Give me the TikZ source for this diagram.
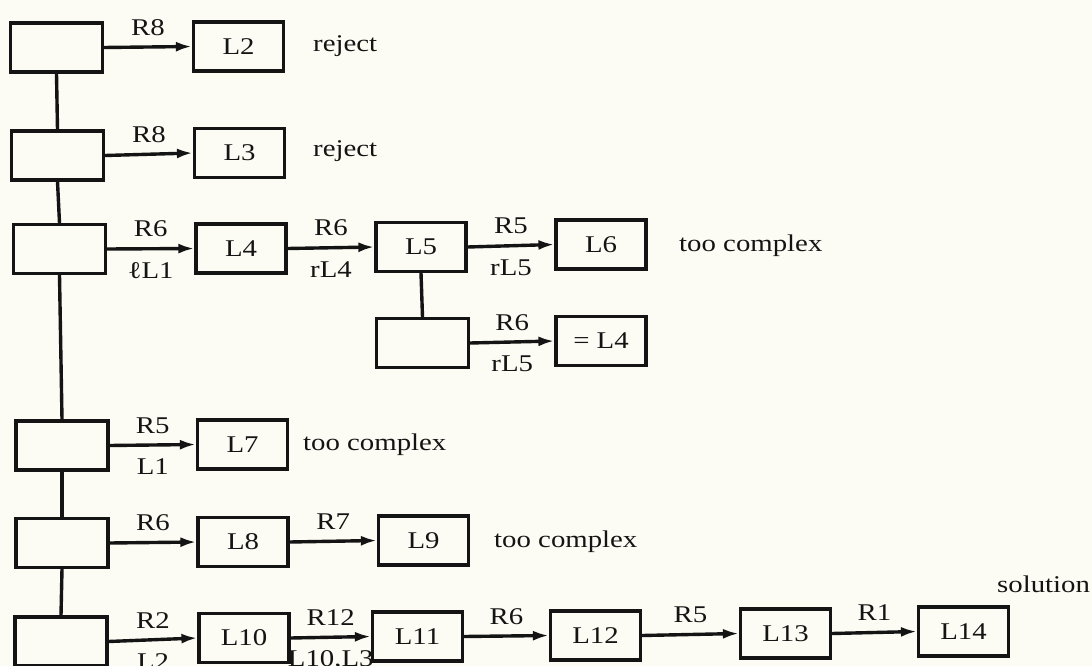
\documentclass[tikz,border=0pt]{standalone}
\usepackage{fontspec}
\setmainfont{Liberation Serif}[FakeStretch=1.2]
\usetikzlibrary{arrows.meta}
\definecolor{bg}{RGB}{252,252,244}
\definecolor{ink}{RGB}{20,20,20}
\newcommand\labfont{\fontsize{24}{28}\selectfont}
\begin{document}
\begin{tikzpicture}[x=1pt,y=-1pt,
  conn/.style={draw=ink, line width=3.4pt},
  arr/.style={conn, -{Latex[length=16pt,width=10pt]}},
  lbox/.style={draw=ink, line width=3.2pt, minimum width=90pt, minimum height=49pt, inner sep=0pt, font=\labfont, text=ink},
  sbox/.style={lbox, minimum width=92pt},
  lab/.style={font=\labfont, inner sep=2pt, text=ink},
  ab/.style={lab, above=8pt},
  bl/.style={lab, below=10pt},
  note/.style={lab, anchor=west}]
\path[fill=bg, use as bounding box] (0,0) rectangle (1092,666);
% left column
\node[sbox] (B1) at (56.5,47.5) {};
\node[sbox] (B2) at (57.5,155.5) {};
\node[sbox] (B3) at (59.5,249) {};
\node[sbox] (B4) at (62,445.5) {};
\node[sbox] (B5) at (62,543) {};
\node[sbox] (B6) at (61,641.5) {};
\draw[conn] (B1.south) -- (B2.north);
\draw[conn] (B2.south) -- (B3.north);
\draw[conn] (B3.south) -- (B4.north);
\draw[conn] (B4.south) -- (B5.north);
\draw[conn] (B5.south) -- (B6.north);
% row 1
\node[lbox] (L2) at (238.5,46.5) {L2};
\draw[arr] (B1.east) -- node[ab] (r1) {R8} (L2.west);
\node[note] (n1) at (311,46) {reject};
% row 2
\node[lbox] (L3) at (239.5,153) {L3};
\draw[arr] (B2.east) -- node[ab] (r2) {R8} (L3.west);
\node[note] (n2) at (311,151) {reject};
% row 3
\node[lbox] (L4) at (241,248.5) {L4};
\node[lbox] (L5) at (421,247) {L5};
\node[lbox] (L6) at (601,244.5) {L6};
\draw[arr] (B3.east) -- node[ab] (r3) {R6} node[bl] (s3) {ℓL1} (L4.west);
\draw[arr] (L4.east) -- node[ab] (r4) {R6} node[bl] (s4) {rL4} (L5.west);
\draw[arr] (L5.east) -- node[ab] (r5) {R5} node[bl] (s5) {rL5} (L6.west);
\node[note] (n3) at (677,246) {too complex};
% sub row
\node[sbox] (B7) at (422.5,343) {};
\node[lbox] (E4) at (601,341) {= L4};
\draw[conn] (L5.south) -- (B7.north);
\draw[arr] (B7.east) -- node[ab] (r6) {R6} node[bl] (s6) {rL5} (E4.west);
% row 4
\node[lbox] (L7) at (242.5,444.5) {L7};
\draw[arr] (B4.east) -- node[ab] (r7) {R5} node[bl] (s7) {L1} (L7.west);
\node[note] (n4) at (301,445) {too complex};
% row 5
\node[lbox] (L8) at (243,542) {L8};
\node[lbox] (L9) at (423.5,540.5) {L9};
\draw[arr] (B5.east) -- node[ab] (r8) {R6} (L8.west);
\draw[arr] (L8.east) -- node[ab] (r9) {R7} (L9.west);
\node[note] (n5) at (492,542) {too complex};
% row 6
\node[lbox] (L10) at (244,638) {L10};
\node[lbox] (L11) at (417.5,636.5) {L11};
\node[lbox] (L12) at (595.5,635.5) {L12};
\node[lbox] (L13) at (785.5,633.5) {L13};
\node[lbox] (L14) at (963.5,631.5) {L14};
\draw[arr] (B6.east) -- node[ab] (r10) {R2} node[bl] (s10) {L2} (L10.west);
\draw[arr] (L10.east) -- node[ab] (r11) {R12} node[bl] (s11) {L10,L3} (L11.west);
\draw[arr] (L11.east) -- node[ab] (r12) {R6} (L12.west);
\draw[arr] (L12.east) -- node[ab] (r13) {R5} (L13.west);
\draw[arr] (L13.east) -- node[ab] (r14) {R1} (L14.west);
\node[lab, anchor=base west] (sol) at (995,592) {solution};
\end{tikzpicture}
\end{document}
